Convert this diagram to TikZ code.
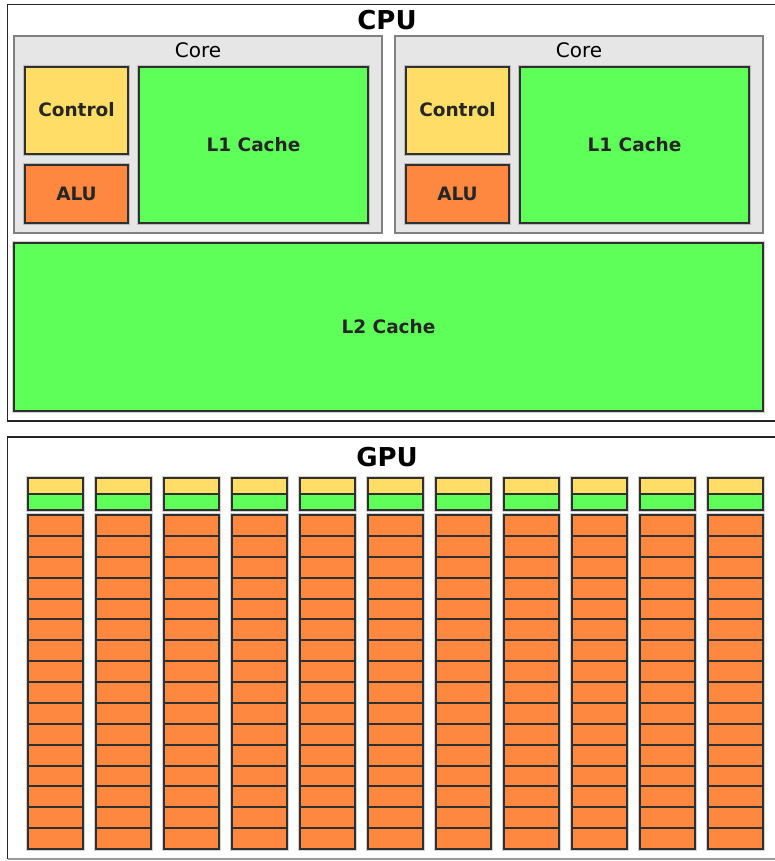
\documentclass[tikz,border=0pt]{standalone}
\usepackage{fontspec}
\setmainfont{DejaVu Sans}
\definecolor{ctlyellow}{HTML}{FFDD66}
\definecolor{alu}{HTML}{FF8840}
\definecolor{cache}{HTML}{5FFF5A}
\definecolor{corebg}{HTML}{E6E6E6}
\definecolor{coreline}{HTML}{808080}
\definecolor{edge}{HTML}{303030}
\tikzset{
  halo/.style={draw=black, opacity=0.18, line width=3.2pt},
  unit/.style={draw=edge, line width=1.3pt},
  divider/.style={draw=edge, line width=2pt},
  corebox/.style={fill=corebg, draw=coreline, line width=1.8pt},
  frame/.style={draw=black!85, line width=1.5pt},
  title/.style={font=\fontsize{26}{28}\selectfont\bfseries},
  lbl/.style={font=\fontsize{18.5}{20}\selectfont\bfseries, text=black!85},
  corelbl/.style={font=\fontsize{20}{22}\selectfont, text=black},
}
% filled unit box with a soft halo
\newcommand{\unitbox}[3]{%
  \path[halo] #1 rectangle #2;
  \path[fill=#3, unit] #1 rectangle #2;}
\begin{document}
\begin{tikzpicture}[x=1pt, y=-1pt]
\useasboundingbox[fill=white] (0,0) rectangle (775,861);

% ---------- CPU ----------
\draw[frame] (790,4.5) -- (7.5,4.5) -- (7.5,421) -- (790,421);
\node[title] (cpu) at (387,20) {CPU};

\foreach \cx/\nm in {14/a, 395/b} {
  \path[corebox] (\cx,36) rectangle ++(368,197);
  \node[corelbl] (core\nm) at (\cx+184,50) {Core};
  \unitbox{(\cx+11,67)}{(\cx+114,154)}{ctlyellow}
  \node[lbl] (ctl\nm) at (\cx+62.5,110) {Control};
  \unitbox{(\cx+11,165)}{(\cx+114,223)}{alu}
  \node[lbl] (alu\nm) at (\cx+62.5,194) {ALU};
  \unitbox{(\cx+125,67)}{(\cx+354,223)}{cache}
  \node[lbl] (lone\nm) at (\cx+239.5,145) {L1 Cache};
}

\unitbox{(14,243)}{(763,411)}{cache}
\node[lbl] (ltwo) at (388.5,327) {L2 Cache};

% ---------- GPU ----------
\draw[frame] (790,437) -- (7.5,437) -- (7.5,859);
\draw[draw=black!40, line width=1.5pt] (7.5,859) -- (790,859);
\node[title] (gpu) at (387,457) {GPU};

\foreach \i in {0,...,10} {
  \pgfmathsetmacro{\xl}{28+68*\i}
  \pgfmathsetmacro{\xr}{\xl+55}
  % control + cache strip
  \path[halo] (\xl,478) rectangle (\xr,510);
  \fill[ctlyellow] (\xl,478) rectangle (\xr,494);
  \fill[cache] (\xl,494) rectangle (\xr,510);
  \draw[unit] (\xl,478) rectangle (\xr,510);
  \draw[divider] (\xl,494) -- (\xr,494);
  % ALU stack: 16 cells
  \path[halo] (\xl,515) rectangle (\xr,849);
  \fill[alu] (\xl,515) rectangle (\xr,849);
  \foreach \r in {1,...,15} {
    \pgfmathsetmacro{\yy}{round(515+20.875*\r)}
    \draw[divider] (\xl,\yy) -- (\xr,\yy);
  }
  \draw[unit] (\xl,515) rectangle (\xr,849);
}
\end{tikzpicture}
\end{document}
